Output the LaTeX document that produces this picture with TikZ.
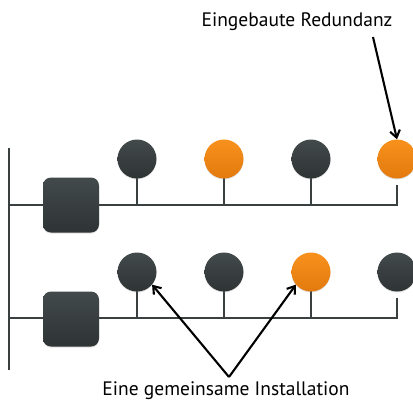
\documentclass[tikz,border=0pt]{standalone}
\usepackage{fontspec}
\setmainfont{PT Sans}
\usetikzlibrary{arrows.meta,shadows}
\definecolor{dk}{HTML}{3A3F40}
\definecolor{dktop}{HTML}{434A4B}
\definecolor{dkbot}{HTML}{2E3334}
\definecolor{ortop}{HTML}{F8911C}
\definecolor{orbot}{HTML}{E27A0E}
\tikzset{
  bus/.style={draw=dk, line width=2.6pt},
  dev/.style={circle, minimum size=39pt, inner sep=0pt, top color=dktop, bottom color=dkbot, drop shadow={opacity=0.25, shadow xshift=0pt, shadow yshift=-1pt}},
  red/.style={circle, minimum size=39pt, inner sep=0pt, top color=ortop, bottom color=orbot, drop shadow={opacity=0.25, shadow xshift=0pt, shadow yshift=-1pt}},
  ctrl/.style={rectangle, rounded corners=8pt, minimum width=56pt, minimum height=55pt, inner sep=0pt, top color=dktop, bottom color=dkbot, drop shadow={opacity=0.25, shadow xshift=0pt, shadow yshift=-1pt}},
  lbl/.style={font=\fontsize{19.5}{23}\selectfont, inner sep=0pt, text=black},
  pointer/.style={draw=black, line width=2.1pt, -{Straight Barb[length=7pt,width=10pt,line width=2.1pt]}}
}
\begin{document}
\begin{tikzpicture}[x=1pt,y=-1pt]
\useasboundingbox (0,0) rectangle (413,405);
\fill[white] (0,0) rectangle (413,405);
% backbone
\coordinate (vtop) at (9,148);
\coordinate (vbot) at (9,370);
\draw[bus] (vtop) -- (vbot);
% top line
\coordinate (t0) at (9,205);
\coordinate (t1) at (137,205);
\coordinate (t2) at (224,205);
\coordinate (t3) at (311,205);
\coordinate (t4) at (397,205);
% bottom line
\coordinate (b0) at (9,318);
\coordinate (b1) at (137,318);
\coordinate (b2) at (224,318);
\coordinate (b3) at (311,318);
\coordinate (b4) at (397,318);
\draw[bus, line join=miter] (t0) -- (t4) -- ++(0,-20);
\draw[bus, line join=miter] (b0) -- (b4) -- ++(0,-20);
\draw[bus] (t1) -- ++(0,-30);
\draw[bus] (t2) -- ++(0,-30);
\draw[bus] (t3) -- ++(0,-30);
\draw[bus] (b1) -- ++(0,-30);
\draw[bus] (b2) -- ++(0,-30);
\draw[bus] (b3) -- ++(0,-30);
% controllers
\node[ctrl] (c1) at (71,205) {};
\node[ctrl] (c2) at (71,319) {};
% devices
\node[dev] (d11) at (137,159) {};
\node[red] (d12) at (224,159) {};
\node[dev] (d13) at (311,159) {};
\node[red] (d14) at (397,159) {};
\node[dev] (d21) at (137,272) {};
\node[dev] (d22) at (224,272) {};
\node[red] (d23) at (311,272) {};
\node[dev] (d24) at (397,272) {};
% labels
\node[lbl] (l1) at (297,22) {Eingebaute Redundanz};
\node[lbl] (l2) at (226,391) {Eine gemeinsame Installation};
\coordinate (a1s) at (373,37);
\coordinate (apex) at (229,377);
\draw[pointer] (a1s) -- (d14.north);
\draw[pointer] (apex) -- (d21.-40);
\draw[pointer] (apex) -- (d23.-140);
\end{tikzpicture}
\end{document}
